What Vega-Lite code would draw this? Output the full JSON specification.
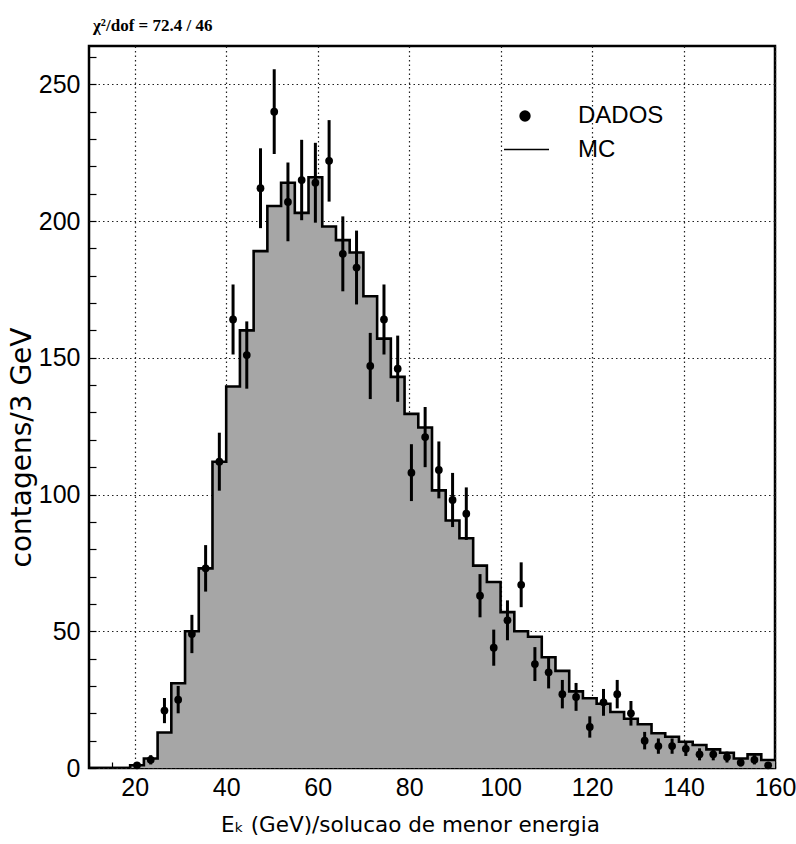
{
  "$schema": "https://vega.github.io/schema/vega-lite/v6.json",
  "width": 686,
  "height": 722,
  "autosize": {"type": "none"},
  "padding": {"left": 89, "top": 46, "right": 21, "bottom": 76},
  "background": "white",
  "title": {
    "text": "χ²/dof = 72.4 / 46",
    "anchor": "start",
    "frame": "group",
    "font": "Liberation Serif",
    "fontSize": 17,
    "fontWeight": "bold",
    "color": "black",
    "offset": 10,
    "dx": 4
  },
  "datasets": {
    "hist": [
      {"e": 10, "mc": 0}, {"e": 13, "mc": 0}, {"e": 16, "mc": 0}, {"e": 19, "mc": 1},
      {"e": 22, "mc": 3.5}, {"e": 25, "mc": 13}, {"e": 28, "mc": 31}, {"e": 31, "mc": 50},
      {"e": 34, "mc": 73}, {"e": 37, "mc": 112}, {"e": 40, "mc": 139.5}, {"e": 43, "mc": 160},
      {"e": 46, "mc": 189}, {"e": 49, "mc": 205.5}, {"e": 52, "mc": 214}, {"e": 55, "mc": 203},
      {"e": 58, "mc": 216}, {"e": 61, "mc": 198}, {"e": 64, "mc": 193}, {"e": 67, "mc": 188.5},
      {"e": 70, "mc": 172.5}, {"e": 73, "mc": 157}, {"e": 76, "mc": 143}, {"e": 79, "mc": 129.5},
      {"e": 82, "mc": 124.5}, {"e": 85, "mc": 101.5}, {"e": 88, "mc": 90.5}, {"e": 91, "mc": 84},
      {"e": 94, "mc": 74}, {"e": 97, "mc": 68}, {"e": 100, "mc": 57}, {"e": 103, "mc": 50},
      {"e": 106, "mc": 48}, {"e": 109, "mc": 40.5}, {"e": 112, "mc": 35.5}, {"e": 115, "mc": 28},
      {"e": 118, "mc": 25.5}, {"e": 121, "mc": 23.5}, {"e": 124, "mc": 20.5}, {"e": 127, "mc": 18},
      {"e": 130, "mc": 16}, {"e": 133, "mc": 12.7}, {"e": 136, "mc": 11.4}, {"e": 139, "mc": 9.6},
      {"e": 142, "mc": 8.4}, {"e": 145, "mc": 6.8}, {"e": 148, "mc": 5.6}, {"e": 151, "mc": 3.5},
      {"e": 154, "mc": 5}, {"e": 157, "mc": 2.9}, {"e": 160, "mc": 2.9}
    ],
    "pts": [
      {"x": 20.5, "n": 1, "lo": 0, "hi": 2},
      {"x": 23.5, "n": 3, "lo": 1.3, "hi": 4.7},
      {"x": 26.5, "n": 21, "lo": 16.4, "hi": 25.6},
      {"x": 29.5, "n": 25, "lo": 20, "hi": 30},
      {"x": 32.5, "n": 49, "lo": 42, "hi": 56},
      {"x": 35.5, "n": 73, "lo": 64.5, "hi": 81.5},
      {"x": 38.5, "n": 112, "lo": 101.4, "hi": 122.6},
      {"x": 41.5, "n": 164, "lo": 151.2, "hi": 176.8},
      {"x": 44.5, "n": 151, "lo": 138.7, "hi": 163.3},
      {"x": 47.5, "n": 212, "lo": 197.4, "hi": 226.6},
      {"x": 50.5, "n": 240, "lo": 224.5, "hi": 255.5},
      {"x": 53.5, "n": 207, "lo": 192.6, "hi": 221.4},
      {"x": 56.5, "n": 215, "lo": 200.3, "hi": 229.7},
      {"x": 59.5, "n": 214, "lo": 199.4, "hi": 228.6},
      {"x": 62.5, "n": 222, "lo": 207.1, "hi": 236.9},
      {"x": 65.5, "n": 188, "lo": 174.3, "hi": 201.7},
      {"x": 68.5, "n": 183, "lo": 169.5, "hi": 196.5},
      {"x": 71.5, "n": 147, "lo": 134.9, "hi": 159.1},
      {"x": 74.5, "n": 164, "lo": 151.2, "hi": 176.8},
      {"x": 77.5, "n": 146, "lo": 133.9, "hi": 158.1},
      {"x": 80.5, "n": 108, "lo": 97.6, "hi": 118.4},
      {"x": 83.5, "n": 121, "lo": 110, "hi": 132},
      {"x": 86.5, "n": 109, "lo": 98.6, "hi": 119.4},
      {"x": 89.5, "n": 98, "lo": 88.1, "hi": 107.9},
      {"x": 92.5, "n": 93, "lo": 83.4, "hi": 102.6},
      {"x": 95.5, "n": 63, "lo": 55.1, "hi": 70.9},
      {"x": 98.5, "n": 44, "lo": 37.4, "hi": 50.6},
      {"x": 101.5, "n": 54, "lo": 46.7, "hi": 61.3},
      {"x": 104.5, "n": 67, "lo": 58.8, "hi": 75.2},
      {"x": 107.5, "n": 38, "lo": 31.8, "hi": 44.2},
      {"x": 110.5, "n": 35, "lo": 29.1, "hi": 40.9},
      {"x": 113.5, "n": 27, "lo": 21.8, "hi": 32.2},
      {"x": 116.5, "n": 26, "lo": 20.9, "hi": 31.1},
      {"x": 119.5, "n": 15, "lo": 11.1, "hi": 18.9},
      {"x": 122.5, "n": 24, "lo": 19.1, "hi": 28.9},
      {"x": 125.5, "n": 27, "lo": 21.8, "hi": 32.2},
      {"x": 128.5, "n": 20, "lo": 15.5, "hi": 24.5},
      {"x": 131.5, "n": 10, "lo": 6.8, "hi": 13.2},
      {"x": 134.5, "n": 8, "lo": 5.2, "hi": 10.8},
      {"x": 137.5, "n": 8, "lo": 5.2, "hi": 10.8},
      {"x": 140.5, "n": 7, "lo": 4.4, "hi": 9.6},
      {"x": 143.5, "n": 5, "lo": 2.8, "hi": 7.2},
      {"x": 146.5, "n": 5, "lo": 2.8, "hi": 7.2},
      {"x": 149.5, "n": 4, "lo": 2, "hi": 6},
      {"x": 152.5, "n": 2, "lo": 0.6, "hi": 3.4},
      {"x": 155.5, "n": 3, "lo": 1.3, "hi": 4.7},
      {"x": 158.5, "n": 1, "lo": 0, "hi": 2}
    ]
  },
  "layer": [
    {
      "data": {"name": "hist"},
      "mark": {"type": "area", "interpolate": "step-after", "color": "#a6a6a6", "clip": true},
      "encoding": {
        "x": {"field": "e", "type": "quantitative", "scale": {"domain": [10, 160], "nice": false, "zero": false},
          "axis": {"values": [10, 15, 20, 25, 30, 35, 40, 45, 50, 55, 60, 65, 70, 75, 80, 85, 90, 95, 100, 105, 110, 115, 120, 125, 130, 135, 140, 145, 150, 155, 160], "labelExpr": "datum.value % 20 == 0 ? datum.label : ''", "gridOpacity": {"condition": {"test": "datum.value % 20 == 0", "value": 1}, "value": 0}, "title": "Eₖ (GeV)/solucao de menor energia", "titleFont": "DejaVu Sans", "titleFontSize": 21.5, "titleFontWeight": "normal", "titlePadding": 14, "titleX": 321, "titleAlign": "center", "tickSize": -6, "labelPadding": 13}},
        "y": {"field": "mc", "type": "quantitative", "scale": {"domain": [0, 264], "nice": false},
          "axis": {"values": [0, 10, 20, 30, 40, 50, 60, 70, 80, 90, 100, 110, 120, 130, 140, 150, 160, 170, 180, 190, 200, 210, 220, 230, 240, 250, 260], "labelExpr": "datum.value % 50 == 0 ? datum.label : ''", "gridOpacity": {"condition": {"test": "datum.value % 50 == 0", "value": 1}, "value": 0}, "title": "contagens/3 GeV", "titleFont": "DejaVu Sans", "titleFontSize": 28, "titleFontWeight": "normal", "titlePadding": 2, "titleY": 401, "titleAlign": "center", "tickSize": -7, "labelPadding": 16}}
      }
    },
    {
      "data": {"name": "hist"},
      "mark": {"type": "line", "interpolate": "step-after", "strokeWidth": 2.6, "clip": true},
      "encoding": {
        "x": {"field": "e", "type": "quantitative",
          "axis": {"values": [10, 15, 20, 25, 30, 35, 40, 45, 50, 55, 60, 65, 70, 75, 80, 85, 90, 95, 100, 105, 110, 115, 120, 125, 130, 135, 140, 145, 150, 155, 160], "labelExpr": "datum.value % 20 == 0 ? datum.label : ''", "gridOpacity": {"condition": {"test": "datum.value % 20 == 0", "value": 1}, "value": 0}, "title": "Eₖ (GeV)/solucao de menor energia", "titleFont": "DejaVu Sans", "titleFontSize": 21.5, "titleFontWeight": "normal", "titlePadding": 14, "titleX": 321, "titleAlign": "center", "tickSize": -6, "labelPadding": 13}},
        "y": {"field": "mc", "type": "quantitative",
          "axis": {"values": [0, 10, 20, 30, 40, 50, 60, 70, 80, 90, 100, 110, 120, 130, 140, 150, 160, 170, 180, 190, 200, 210, 220, 230, 240, 250, 260], "labelExpr": "datum.value % 50 == 0 ? datum.label : ''", "gridOpacity": {"condition": {"test": "datum.value % 50 == 0", "value": 1}, "value": 0}, "title": "contagens/3 GeV", "titleFont": "DejaVu Sans", "titleFontSize": 28, "titleFontWeight": "normal", "titlePadding": 2, "titleY": 401, "titleAlign": "center", "tickSize": -7, "labelPadding": 16}},
        "stroke": {"datum": "MC", "type": "nominal",
          "scale": {"domain": ["MC"], "range": ["black"]},
          "legend": {"title": null, "orient": "none", "legendX": 414, "legendY": 80, "symbolSize": 2025, "symbolStrokeWidth": 1.5, "labelOffset": 28}}
      }
    },
    {
      "data": {"name": "pts"},
      "mark": {"type": "rule", "color": "black", "strokeWidth": 3},
      "encoding": {
        "x": {"field": "x", "type": "quantitative",
          "axis": {"values": [10, 15, 20, 25, 30, 35, 40, 45, 50, 55, 60, 65, 70, 75, 80, 85, 90, 95, 100, 105, 110, 115, 120, 125, 130, 135, 140, 145, 150, 155, 160], "labelExpr": "datum.value % 20 == 0 ? datum.label : ''", "gridOpacity": {"condition": {"test": "datum.value % 20 == 0", "value": 1}, "value": 0}, "title": "Eₖ (GeV)/solucao de menor energia", "titleFont": "DejaVu Sans", "titleFontSize": 21.5, "titleFontWeight": "normal", "titlePadding": 14, "titleX": 321, "titleAlign": "center", "tickSize": -6, "labelPadding": 13}},
        "y": {"field": "lo", "type": "quantitative",
          "axis": {"values": [0, 10, 20, 30, 40, 50, 60, 70, 80, 90, 100, 110, 120, 130, 140, 150, 160, 170, 180, 190, 200, 210, 220, 230, 240, 250, 260], "labelExpr": "datum.value % 50 == 0 ? datum.label : ''", "gridOpacity": {"condition": {"test": "datum.value % 50 == 0", "value": 1}, "value": 0}, "title": "contagens/3 GeV", "titleFont": "DejaVu Sans", "titleFontSize": 28, "titleFontWeight": "normal", "titlePadding": 2, "titleY": 401, "titleAlign": "center", "tickSize": -7, "labelPadding": 16}},
        "y2": {"field": "hi"}
      }
    },
    {
      "data": {"name": "pts"},
      "mark": {"type": "point", "filled": true, "color": "black", "size": 60, "opacity": 1},
      "encoding": {
        "x": {"field": "x", "type": "quantitative",
          "axis": {"values": [10, 15, 20, 25, 30, 35, 40, 45, 50, 55, 60, 65, 70, 75, 80, 85, 90, 95, 100, 105, 110, 115, 120, 125, 130, 135, 140, 145, 150, 155, 160], "labelExpr": "datum.value % 20 == 0 ? datum.label : ''", "gridOpacity": {"condition": {"test": "datum.value % 20 == 0", "value": 1}, "value": 0}, "title": "Eₖ (GeV)/solucao de menor energia", "titleFont": "DejaVu Sans", "titleFontSize": 21.5, "titleFontWeight": "normal", "titlePadding": 14, "titleX": 321, "titleAlign": "center", "tickSize": -6, "labelPadding": 13}},
        "y": {"field": "n", "type": "quantitative",
          "axis": {"values": [0, 10, 20, 30, 40, 50, 60, 70, 80, 90, 100, 110, 120, 130, 140, 150, 160, 170, 180, 190, 200, 210, 220, 230, 240, 250, 260], "labelExpr": "datum.value % 50 == 0 ? datum.label : ''", "gridOpacity": {"condition": {"test": "datum.value % 50 == 0", "value": 1}, "value": 0}, "title": "contagens/3 GeV", "titleFont": "DejaVu Sans", "titleFontSize": 28, "titleFontWeight": "normal", "titlePadding": 2, "titleY": 401, "titleAlign": "center", "tickSize": -7, "labelPadding": 16}},
        "shape": {"datum": "DADOS", "type": "nominal",
          "scale": {"domain": ["DADOS"], "range": ["circle"]},
          "legend": {"title": null, "orient": "none", "legendX": 424, "legendY": 58, "symbolSize": 130, "labelOffset": 41}}
      }
    }
  ],
  "config": {
    "view": {"stroke": "black", "strokeWidth": 2.5},
    "axis": {
      "zindex": 1,
      "domain": false,
      "grid": true,
      "gridColor": "#222222",
      "gridDash": [1.5, 3],
      "gridWidth": 1.2,
      "tickColor": "black",
      "tickWidth": 1.2,
      "labelFont": "Liberation Sans",
      "labelFontSize": 25,
      "labelColor": "black",
      "labelOverlap": false,
      "labelFlush": false,
      "labelBound": false,
      "titleColor": "black"
    },
    "legend": {
      "labelFont": "Liberation Sans",
      "labelFontSize": 24,
      "labelColor": "black",
      "padding": 0
    }
  }
}
